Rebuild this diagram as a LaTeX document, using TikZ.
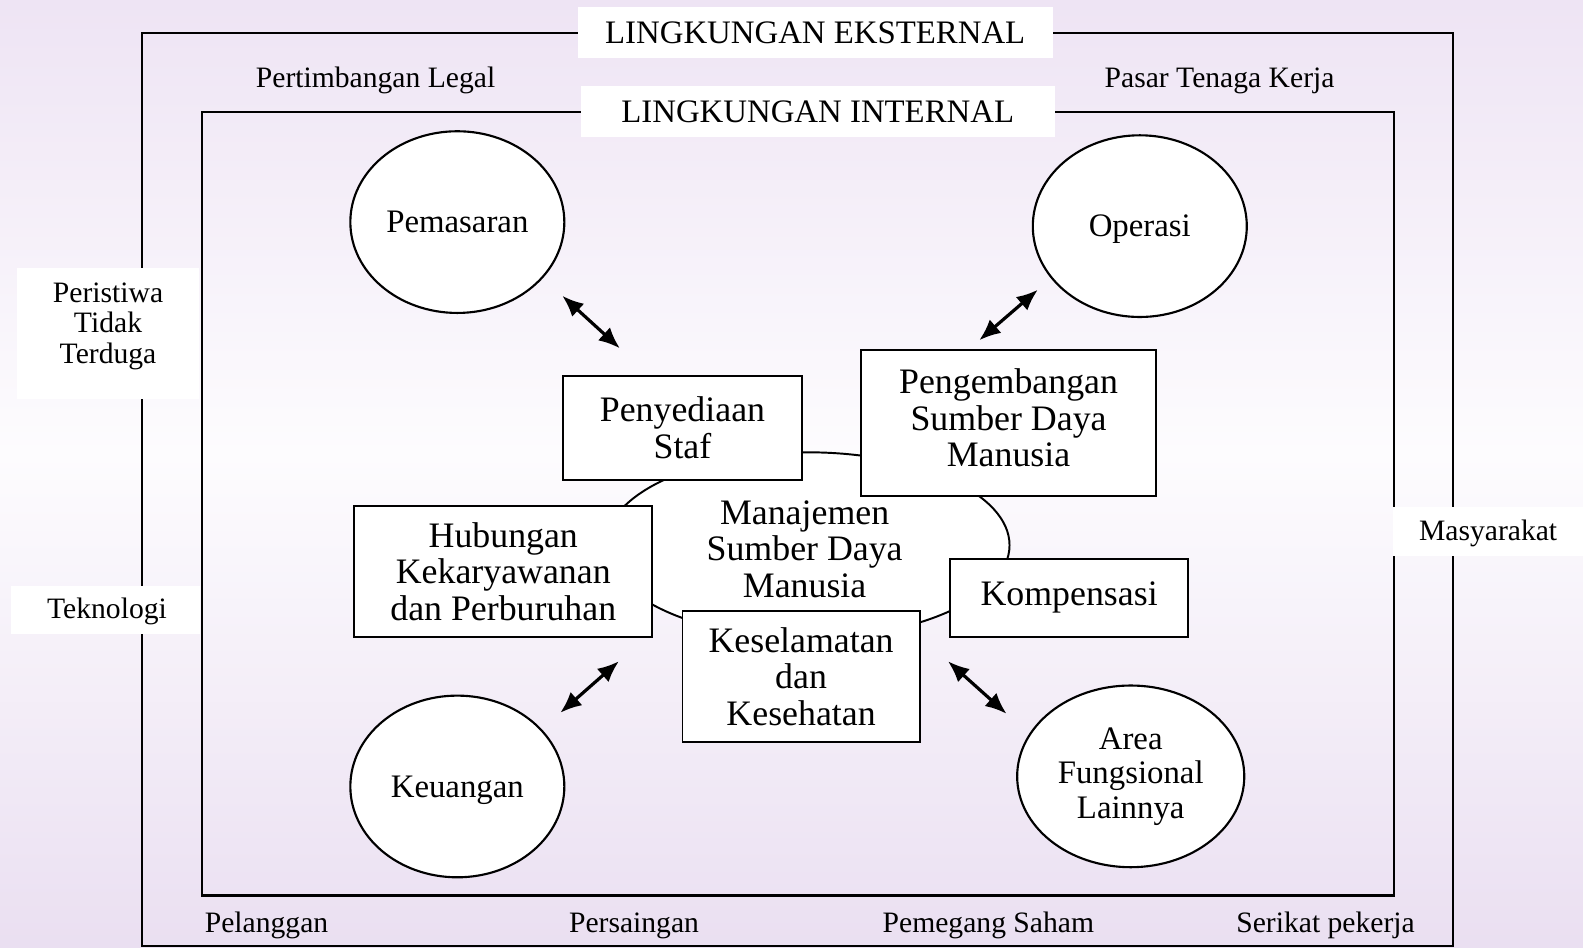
\documentclass[tikz,border=0pt]{standalone}
\usepackage{fontspec}
\setmainfont{Liberation Serif}
\usepackage{tikz}
\usetikzlibrary{arrows.meta, positioning, shapes.geometric}
\usepackage{xcolor}
\definecolor{lavtop}{RGB}{238,228,244}
\definecolor{lavmid}{RGB}{253,252,254}
\definecolor{lavbot}{RGB}{234,223,241}

\begin{document}
\begin{tikzpicture}[
    x=0.02cm, y=-0.02cm,
    every node/.style={font=\fontsize{18.5}{19.5}\selectfont, align=center, inner sep=0pt},
    frame/.style={draw, line width=1.2pt},
    outer/.style={font=\fontsize{16.7}{17.2}\selectfont},
    tag/.style={fill=white},
    title/.style={fill=white, font=\fontsize{18.5}{19}\selectfont},
    area/.style={draw, ellipse, fill=white, line width=1.2pt, minimum width=4.24cm, minimum height=3.6cm},
    box/.style={draw, fill=white, line width=1.1pt, font=\fontsize{20.2}{20.6}\selectfont},
    boxtext/.style={font=\fontsize{20.2}{20.6}\selectfont},
    line/.style={{Latex[length=12pt,width=10pt]}-{Latex[length=12pt,width=10pt]}, line width=1.8pt}
]
% background
\useasboundingbox (0,0) rectangle (1568,939);
\fill[top color=lavtop, bottom color=lavmid] (0,0) rectangle (1568,450);
\fill[top color=lavmid, bottom color=lavbot] (0,450) rectangle (1568,939);

% environment frames
\draw[frame] (141,33) rectangle (1439,937);
\draw[frame] (200,111) rectangle (1381,887);

% external factors
\node[title, minimum width=9.42cm, minimum height=1.0cm] (ext) at (807.5,32) {LINGKUNGAN EKSTERNAL};
\node[title, minimum width=9.4cm, minimum height=1.02cm] (int) at (810,110.5) {LINGKUNGAN INTERNAL};
\node[outer] (legal) at (372,80) {Pertimbangan Legal};
\node[outer] (pasar) at (1208,80) {Pasar Tenaga Kerja};
\node[outer] (pelanggan) at (264,917) {Pelanggan};
\node[outer] (saing) at (628,917) {Persaingan};
\node[outer] (saham) at (979,917) {Pemegang Saham};
\node[outer] (serikat) at (1313,917) {Serikat pekerja};
\node[tag, minimum width=3.6cm, minimum height=2.6cm] (dugabox) at (107,330) {};
\node[outer] (duga) at (107,323) {Peristiwa\\Tidak\\Terduga};
\node[tag, minimum width=3.74cm, minimum height=0.96cm] (teknobox) at (104.5,604) {};
\node[outer] (tekno) at (106,606) {Teknologi};
\node[tag, minimum width=3.78cm, minimum height=0.98cm] (masybox) at (1474,526.5) {};
\node[outer] (masy) at (1474,528) {Masyarakat};

% functional areas
\node[area] (pemasaran) at (453,220) {Pemasaran};
\node[area] (operasi) at (1129,224) {\raisebox{-6pt}[0pt][0pt]{Operasi}};
\node[area] (keuangan) at (453,779) {\raisebox{-6pt}[0pt][0pt]{Keuangan}};
\node[area, minimum width=4.5cm] (lain) at (1120,769) {Area\\Fungsional\\Lainnya};

% HRM core
\node[draw, ellipse, fill=white, line width=1.1pt, minimum width=8cm, minimum height=3.68cm] (msdm) at (800,540) {};
\node[boxtext] (msdmtext) at (797,544) {Manajemen\\Sumber Daya\\Manusia};
\node[box, minimum width=4.72cm, minimum height=2.06cm] (staf) at (676,423.5) {Penyediaan\\Staf};
\node[box, minimum width=5.84cm, minimum height=2.88cm] (pengembangan) at (999,419) {};
\node[boxtext] (pengtext) at (999,414) {Pengembangan\\Sumber Daya\\Manusia};
\node[box, minimum width=5.9cm, minimum height=2.6cm] (hubungan) at (498.5,566) {Hubungan\\Kekaryawanan\\dan Perburuhan};
\node[box, minimum width=4.72cm, minimum height=1.54cm] (kompensasi) at (1059,592.5) {\raisebox{5pt}{Kompensasi}};
\node[box, minimum width=4.7cm, minimum height=2.6cm] (k3) at (793.5,670) {Keselamatan\\dan\\Kesehatan};

% links
\coordinate (pemA) at (557,293);
\coordinate (pemB) at (614,345);
\coordinate (opsA) at (1028,287);
\coordinate (opsB) at (970,337);
\coordinate (keuA) at (555,706);
\coordinate (keuB) at (613,655);
\coordinate (lainA) at (997,707);
\coordinate (lainB) at (939,655);
\draw[line] (pemA) -- (pemB);
\draw[line] (opsA) -- (opsB);
\draw[line] (keuA) -- (keuB);
\draw[line] (lainA) -- (lainB);
\end{tikzpicture}
\end{document}
